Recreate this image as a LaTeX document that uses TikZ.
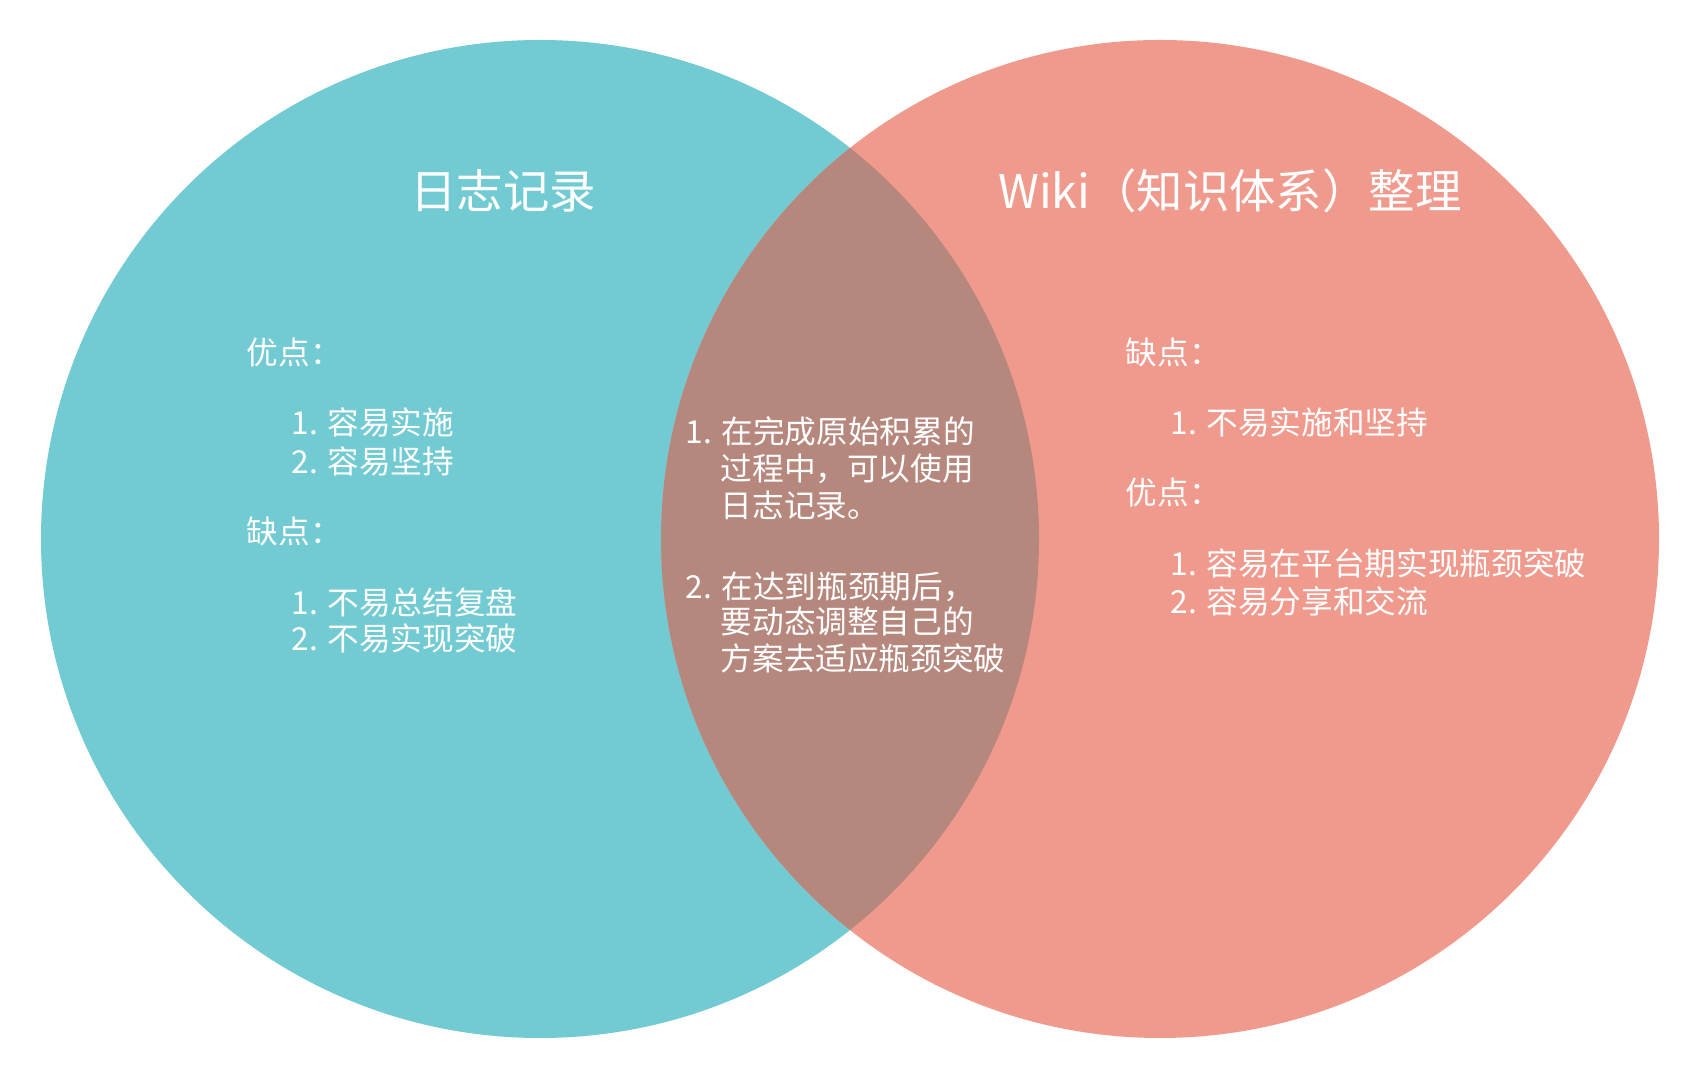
\documentclass[tikz,border=0pt]{standalone}
\usepackage{fontspec}
\setmainfont{Noto Sans CJK SC}
\usetikzlibrary{positioning}
\definecolor{logteal}{HTML}{72CBD2}
\definecolor{wikisalmon}{HTML}{F09A8D}
\definecolor{overlapbrown}{HTML}{B6877D}

\begin{document}
\begin{tikzpicture}[
  x=0.01cm, y=-0.01cm,
  titlet/.style={text=white, inner sep=0pt, anchor=base,
                 font=\fontsize{13.2}{16}\selectfont},
  linet/.style={text=white, inner sep=0pt, anchor=base west,
                font=\fontsize{9}{11}\selectfont},
]
\useasboundingbox (0,0) rectangle (1700,1080);

% Circles
\coordinate (clog)  at (540,539);
\coordinate (cwiki) at (1160,539);
\fill[logteal]    (clog)  circle (499);
\fill[wikisalmon] (cwiki) circle (499);
\begin{scope}
  \clip (clog) circle (499);
  \fill[overlapbrown] (cwiki) circle (499);
\end{scope}

% Titles
\node[titlet] (logtitle)  at (503,209)  {日志记录};
\node[titlet] (wikititle) at (1230,209) {Wiki（知识体系）整理};

% Left: log
\node[linet] (lpro)   at (246,365) {优点：};
\node[linet] (lpro1)  at (291,435) {1. 容易实施};
\node[linet] (lpro2)  at (291,474) {2. 容易坚持};
\node[linet] (lcon)   at (246,544) {缺点：};
\node[linet] (lcon1)  at (291,615) {1. 不易总结复盘};
\node[linet] (lcon2)  at (291,651) {2. 不易实现突破};

% Middle: both
\node[linet] (mid1a) at (685,444) {1. 在完成原始积累的};
\node[linet] (mid1b) at (720,481) {过程中，可以使用};
\node[linet] (mid1c) at (720,518) {日志记录。};
\node[linet] (mid2a) at (685,599) {2. 在达到瓶颈期后，};
\node[linet] (mid2b) at (720,634) {要动态调整自己的};
\node[linet] (mid2c) at (720,671) {方案去适应瓶颈突破};

% Right: wiki
\node[linet] (rcon)   at (1125,365) {缺点：};
\node[linet] (rcon1)  at (1170,435) {1. 不易实施和坚持};
\node[linet] (rpro)   at (1125,505) {优点：};
\node[linet] (rpro1)  at (1170,576) {1. 容易在平台期实现瓶颈突破};
\node[linet] (rpro2)  at (1170,614) {2. 容易分享和交流};
\end{tikzpicture}
\end{document}
